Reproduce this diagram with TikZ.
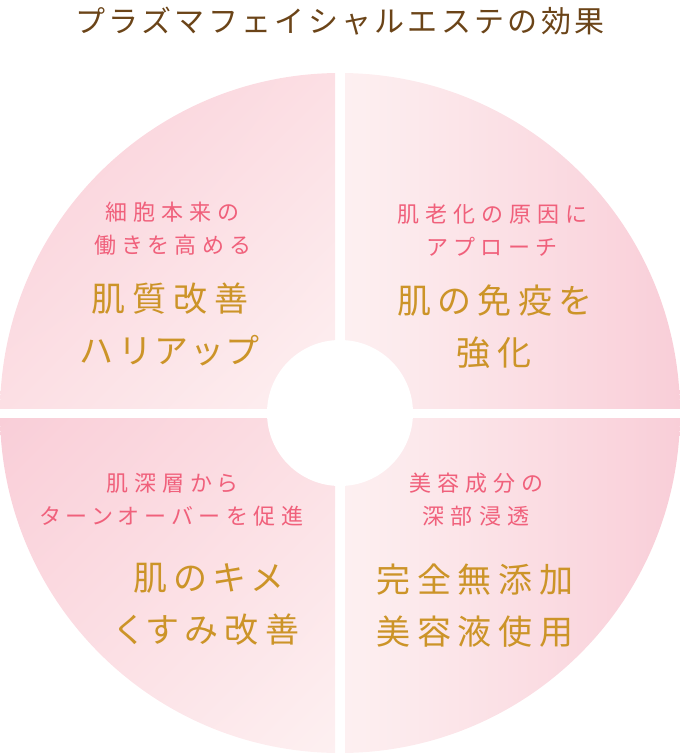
\documentclass[tikz,border=0pt]{standalone}
\usepackage{fontspec}
\newfontfamily\jptitle[LetterSpace=11]{Noto Sans CJK JP}
\newfontfamily\jpsmall[LetterSpace=28,RawFeature=+palt]{Noto Sans CJK JP}
\newfontfamily\jpbig[LetterSpace=20,RawFeature=+palt]{Noto Sans CJK JP}
\usetikzlibrary{positioning,shadings}
\definecolor{pinkdark}{HTML}{F9CED8}
\definecolor{pinkmid}{HTML}{FCDFE4}
\definecolor{pinklight}{HTML}{FDF0F1}
\definecolor{leadpink}{HTML}{F0607B}
\definecolor{gold}{HTML}{CC9428}
\definecolor{titlebrown}{HTML}{6B4418}
\tikzset{lead/.style={align=center, text=leadpink, inner sep=0pt,
    font=\jpsmall\fontsize{22}{33}\selectfont},
  effect/.style={align=center, text=gold, inner sep=0pt,
    font=\jpbig\fontsize{34}{52}\selectfont},
  diag/.style={upper left=pinkdark, lower right=pinklight,
    upper right=pinkmid, lower left=pinkmid},
  horiz/.style={left color=pinklight, right color=pinkdark}}

\begin{document}
\begin{tikzpicture}[x=1pt, y=-1pt]
  \useasboundingbox (0,0) rectangle (680,753);
  \coordinate (c) at (340,413);
  % quadrants
  \begin{scope}
    \clip (c) circle[radius=340pt];
    \shade[diag] (0,73) rectangle (335,408);
    \shade[horiz] (345,73) rectangle (680,408);
    \shade[diag] (0,418) rectangle (335,753);
    \shade[horiz] (345,418) rectangle (680,753);
  \end{scope}
  \fill[white] (c) circle[radius=73pt];
  % title
  \node[text=titlebrown, inner sep=0pt, font=\jptitle\fontsize{30}{30}\selectfont]
    (title) at (340,21) {プラズマフェイシャルエステの効果};
  % top left
  \node[lead] (tlLead) at (172,229) {細胞本来の\\働きを高める};
  \node[effect] (tlEff) at (170,324) {肌質改善\\ハリアップ};
  % top right
  \node[lead] (trLead) at (492,230) {肌老化の原因に\\アプローチ};
  \node[effect] (trEff) at (494,327) {肌の免疫を\\強化};
  % bottom left
  \node[lead] (blLead) at (172,500) {肌深層から\\ターンオーバーを促進};
  \node[effect] (blEff) at (208,604) {肌のキメ\\くすみ改善};
  % bottom right
  \node[lead] (brLead) at (476,500) {美容成分の\\深部浸透};
  \node[effect] (brEff) at (475,606) {完全無添加\\美容液使用};
\end{tikzpicture}
\end{document}
